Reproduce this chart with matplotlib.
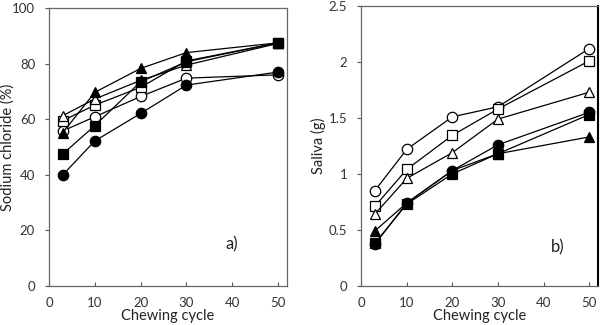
import matplotlib
matplotlib.use("Agg")
import matplotlib.pyplot as plt

cycles = [3, 10, 20, 30, 50]

# Panel a) Sodium chloride (%)
nacl_filled_circle = [40.0, 52.2, 62.1, 72.3, 77.0]
nacl_filled_square = [47.5, 57.7, 73.5, 80.7, 87.5]
nacl_filled_triangle = [55.2, 69.7, 78.3, 84.0, 87.5]
nacl_open_circle = [55.8, 60.9, 68.2, 74.8, 76.0]
nacl_open_square = [59.5, 65.1, 71.5, 81.0, 87.5]
nacl_open_triangle = [61.3, 67.3, 74.0, 79.5, 87.3]

# Panel b) Saliva (g)
sal_open_circle = [0.85, 1.22, 1.51, 1.60, 2.12]
sal_open_square = [0.71, 1.04, 1.345, 1.58, 2.01]
sal_open_triangle = [0.64, 0.96, 1.19, 1.49, 1.73]
sal_filled_circle = [0.37, 0.74, 1.03, 1.26, 1.55]
sal_filled_square = [0.38, 0.73, 1.00, 1.18, 1.53]
sal_filled_triangle = [0.49, 0.74, 1.03, 1.18, 1.33]

plt.rcParams['font.family'] = ['Lato', 'DejaVu Sans']

fig = plt.figure(figsize=(6.0, 3.25), dpi=100)
ax1 = fig.add_axes([0.0817, 0.12, 0.397, 0.855])
ax2 = fig.add_axes([0.602, 0.121, 0.395, 0.860])

ms = 7.5
lw = 0.9

def draw(ax, series):
    for vals, marker, filled in series:
        ax.plot(cycles, vals, color='black', lw=lw, marker=marker, ms=ms,
                markerfacecolor='black' if filled else 'white',
                markeredgecolor='black', markeredgewidth=0.9)

draw(ax1, [
    (nacl_open_circle, 'o', False),
    (nacl_open_square, 's', False),
    (nacl_open_triangle, '^', False),
    (nacl_filled_circle, 'o', True),
    (nacl_filled_triangle, '^', True),
    (nacl_filled_square, 's', True),
])
draw(ax2, [
    (sal_open_circle, 'o', False),
    (sal_open_square, 's', False),
    (sal_open_triangle, '^', False),
    (sal_filled_triangle, '^', True),
    (sal_filled_square, 's', True),
    (sal_filled_circle, 'o', True),
])

for ax in (ax1, ax2):
    ax.set_xlim(0, 52)
    ax.set_xticks([0, 10, 20, 30, 40, 50])
    ax.set_xlabel('Chewing cycle', fontsize=10.5, color='#222222', labelpad=0)
    ax.tick_params(axis='x', direction='in', length=3, width=0.8,
                   colors='#555555', labelcolor='#333333', labelsize=9.5, pad=8)
    ax.tick_params(axis='y', direction='out', length=3, width=0.8,
                   colors='#555555', labelcolor='#333333', labelsize=9.5, pad=7)
    for s in ax.spines.values():
        s.set_color('#666666')
        s.set_linewidth(0.9)

ax1.set_ylim(0, 100)
ax1.set_yticks([0, 20, 40, 60, 80, 100])
ax1.set_ylabel('Sodium chloride (%)', fontsize=10.5, color='#222222')
ax1.yaxis.set_label_coords(-0.145, 0.5)
ax1.text(40, 15, 'a)', fontsize=12, color='#222222', ha='center', va='center')

ax2.set_ylim(0, 2.5)
ax2.set_yticks([0, 0.5, 1, 1.5, 2, 2.5])
ax2.set_yticklabels(['0', '0.5', '1', '1.5', '2', '2.5'])
ax2.set_ylabel('Saliva (g)', fontsize=10.5, color='#222222')
ax2.yaxis.set_label_coords(-0.15, 0.5)
ax2.text(43.2, 0.345, 'b)', fontsize=12, color='#222222', ha='center', va='center')
ax2.spines['right'].set_color('black')
ax2.spines['right'].set_linewidth(1.5)

fig.savefig('out.png', dpi=100)
